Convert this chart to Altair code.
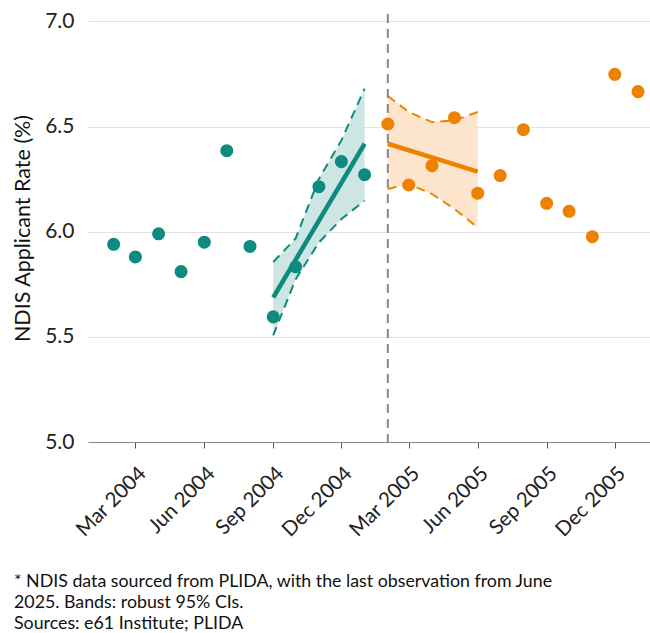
import altair as alt
import pandas as pd

# Monthly NDIS applicant rate (%), before and after the break
months_pre = ["2004-02-01", "2004-03-01", "2004-04-01", "2004-05-01", "2004-06-01", "2004-07-01",
              "2004-08-01", "2004-09-01", "2004-10-01", "2004-11-01", "2004-12-01", "2005-01-01"]
rate_pre = [5.94, 5.88, 5.99, 5.81, 5.95, 6.385, 5.93, 5.595, 5.833, 6.214, 6.333, 6.271]

months_post = ["2005-02-01", "2005-03-01", "2005-04-01", "2005-05-01", "2005-06-01", "2005-07-01",
               "2005-08-01", "2005-09-01", "2005-10-01", "2005-11-01", "2005-12-01", "2006-01-01"]
rate_post = [6.512, 6.222, 6.314, 6.542, 6.183, 6.267, 6.485, 6.135, 6.097, 5.976, 6.748, 6.666]

# Trend fits and robust 95% confidence bands
band_pre_months = ["2004-09-01", "2004-10-01", "2004-11-01", "2004-12-01", "2005-01-01"]
band_pre_lo = [5.507, 5.774, 5.949, 6.060, 6.147]
band_pre_hi = [5.856, 5.968, 6.251, 6.434, 6.680]
fit_pre_months = ["2004-09-01", "2005-01-01"]
fit_pre = [5.687, 6.418]

band_post_months = ["2005-02-01", "2005-03-01", "2005-04-01", "2005-05-01", "2005-06-01"]
band_post_lo = [6.203, 6.227, 6.179, 6.108, 6.020]
band_post_hi = [6.645, 6.569, 6.521, 6.529, 6.569]
fit_post_months = ["2005-02-01", "2005-06-01"]
fit_post = [6.418, 6.286]

break_month = ["2005-02-01"]

tick_months = [(2004, 3), (2004, 6), (2004, 9), (2004, 12),
               (2005, 3), (2005, 6), (2005, 9), (2005, 12)]

note = ("* NDIS data sourced from PLIDA, with the last observation from June\n"
        "2025. Bands: robust 95% CIs.\n"
        "Sources: e61 Institute; PLIDA")

TEAL = "#0F8A7E"
ORANGE = "#EE8200"
FONT = "Lato"

points = pd.concat([
    pd.DataFrame({"month": months_pre, "rate": rate_pre, "period": "pre"}),
    pd.DataFrame({"month": months_post, "rate": rate_post, "period": "post"}),
])
bands = pd.concat([
    pd.DataFrame({"month": band_pre_months, "lo": band_pre_lo, "hi": band_pre_hi, "period": "pre"}),
    pd.DataFrame({"month": band_post_months, "lo": band_post_lo, "hi": band_post_hi, "period": "post"}),
])
fits = pd.concat([
    pd.DataFrame({"month": fit_pre_months, "fit": fit_pre, "period": "pre"}),
    pd.DataFrame({"month": fit_post_months, "fit": fit_post, "period": "post"}),
])
vline = pd.DataFrame({"month": break_month})

x_scale = alt.Scale(
    type="utc",
    domain=[alt.DateTime(year=2003, month=12, date=28, hours=18, utc=True),
            alt.DateTime(year=2006, month=1, date=17, utc=True)],
)
y_scale = alt.Scale(domain=[5.0, 7.035], nice=False, zero=False)
color_scale = alt.Scale(domain=["pre", "post"], range=[TEAL, ORANGE])
fill_scale = alt.Scale(domain=["pre", "post"], range=["#CDE6E4", "#FCE5CC"])

x_enc = alt.X(
    "month:T",
    scale=x_scale,
    title=None,
    axis=alt.Axis(
        values=[alt.DateTime(year=y, month=m, date=1, utc=True) for y, m in tick_months],
        labelExpr="utcFormat(datum.value, '%b %Y')",
        labelOverlap=False,
    ),
)
y_axis = alt.Axis(
    values=[5.0, 5.5, 6.0, 6.5, 7.0],
    format=".1f",
    title="NDIS Applicant Rate (%)",
)

band_area = alt.Chart(bands).mark_area(opacity=1).encode(
    x=x_enc,
    y=alt.Y("lo:Q", scale=y_scale, axis=y_axis),
    y2="hi:Q",
    fill=alt.Fill("period:N", scale=fill_scale, legend=None),
    detail="period:N",
)

band_hi = alt.Chart(bands).mark_line(strokeDash=[9, 6], strokeWidth=2).encode(
    x=x_enc, y=alt.Y("hi:Q", scale=y_scale, axis=y_axis),
    color=alt.Color("period:N", scale=color_scale, legend=None),
)
band_lo = alt.Chart(bands).mark_line(strokeDash=[9, 6], strokeWidth=2).encode(
    x=x_enc, y=alt.Y("lo:Q", scale=y_scale, axis=y_axis),
    color=alt.Color("period:N", scale=color_scale, legend=None),
)

fit_line = alt.Chart(fits).mark_line(strokeWidth=4.5).encode(
    x=x_enc, y=alt.Y("fit:Q", scale=y_scale, axis=y_axis),
    color=alt.Color("period:N", scale=color_scale, legend=None),
)

dots = alt.Chart(points).mark_circle(size=170, opacity=1).encode(
    x=x_enc, y=alt.Y("rate:Q", scale=y_scale, axis=y_axis),
    color=alt.Color("period:N", scale=color_scale, legend=None),
)

break_rule = alt.Chart(vline).mark_rule(
    color="#888888", strokeWidth=2, strokeDash=[9, 6]
).encode(x=x_enc)

caption = alt.Chart(pd.DataFrame({"t": [note]})).mark_text(
    align="left", baseline="alphabetic", fontSize=17.8, font=FONT, color="#111111",
    lineBreak="\n", lineHeight=21,
).encode(text="t:N", x=alt.value(-74), y=alt.value(573))

chart = alt.layer(
    band_area, band_hi, band_lo, fit_line, break_rule, dots, caption
).properties(
    width=562,
    height=428,
    padding={"left": 88, "top": 14, "right": 0, "bottom": 191},
    autosize=alt.AutoSizeParams(type="none"),
    background="white",
).configure_view(
    stroke=None,
).configure_axisX(
    labelAngle=-45,
    labelAlign="right",
    labelBaseline="top",
    labelFontSize=20.5,
    labelColor="#222222",
    labelFont=FONT,
    labelPadding=15,
    labelOffset=0,
    labelOverlap=False,
    grid=False,
    domainColor="#888888",
    domainWidth=1.2,
    tickColor="#555555",
    tickSize=6,
).configure_axisY(
    titleFontSize=21.5,
    titleFontWeight="normal",
    titleFont=FONT,
    titleColor="#111111",
    titlePadding=10,
    labelFontSize=21,
    labelFont=FONT,
    labelColor="#222222",
    labelPadding=14,
    ticks=False,
    domain=False,
    gridColor="#E2E2E2",
    gridWidth=1.2,
)

chart.save("out.html", embed_options={"renderer": "svg", "actions": False})
